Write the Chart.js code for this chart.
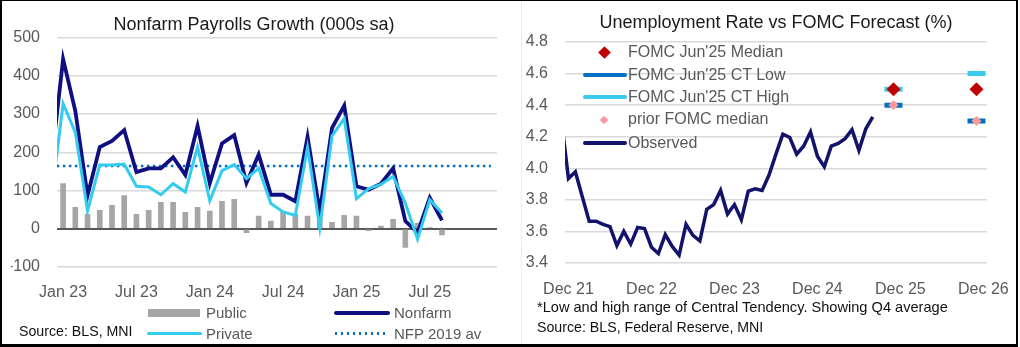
<!DOCTYPE html>
<html>
<head>
<meta charset="utf-8">
<script src="https://cdn.jsdelivr.net/npm/chart.js@4.4.1/dist/chart.umd.min.js"></script>
<style>
  body { margin: 0; background: #fff; font-family: "Liberation Sans", Arial, sans-serif; }
  #wrap { position: relative; width: 1020px; height: 347px; overflow: hidden; background: #fff; }
  canvas { position: absolute; top: 0; }
  #left { left: 0; }
  #right { left: 521px; }
  .frame { position: absolute; left: 0; top: 0; width: 1018px; height: 347px; box-sizing: border-box;
    border-style: solid; border-color: #000; border-width: 1px 2px 3px 2px; pointer-events: none; }
  .sep { position: absolute; left: 521px; top: 0; width: 1px; height: 344px; background: #ececec; }
  .txt { position: absolute; white-space: nowrap; line-height: 20px; height: 20px; color: #595959; }
  .lg { font-size: 15px; }
  .lg2 { font-size: 16px; }
  .note { font-size: 14.5px; color: #111; }
  .sw { position: absolute; }
</style>
</head>
<body>
<div id="wrap">
  <canvas id="left" width="515" height="347"></canvas>
  <canvas id="right" width="497" height="347"></canvas>
  <div class="sep"></div>

  <!-- left legend -->
  <div class="sw" style="left:148px;top:309px;width:52px;height:8px;background:#a6a6a6"></div>
  <div class="txt lg" style="left:206px;top:303px">Public</div>
  <div class="sw" style="left:334px;top:311px;width:56px;height:4px;border-radius:2px;background:#0f0f82"></div>
  <div class="txt lg" style="left:394px;top:303px">Nonfarm</div>
  <div class="sw" style="left:147px;top:332px;width:55px;height:3px;border-radius:1.5px;background:#33ccee"></div>
  <div class="txt lg" style="left:206px;top:324px">Private</div>
  <div class="sw" style="left:335px;top:332px;width:52px;height:2.5px;background:repeating-linear-gradient(90deg,#0070c0 0 2.5px,transparent 2.5px 6px)"></div>
  <div class="txt lg" style="left:394px;top:324px">NFP 2019 av</div>
  <div class="txt note" style="left:19px;top:321px;font-size:14.2px">Source: BLS, MNI</div>

  <!-- right legend -->
  <div class="sw" style="left:599.5px;top:47.5px;width:9px;height:9px;background:#c00000;transform:rotate(45deg)"></div>
  <div class="txt lg2" style="left:628px;top:42px">FOMC Jun'25 Median</div>
  <div class="sw" style="left:583px;top:73px;width:44px;height:4px;border-radius:2px;background:#0070c0"></div>
  <div class="txt lg2" style="left:628px;top:65px">FOMC Jun'25 CT Low</div>
  <div class="sw" style="left:583px;top:95px;width:44px;height:4px;border-radius:2px;background:#3accee"></div>
  <div class="txt lg2" style="left:628px;top:87px">FOMC Jun'25 CT High</div>
  <div class="sw" style="left:601px;top:117px;width:6px;height:6px;background:#ff9999;transform:rotate(45deg)"></div>
  <div class="txt lg2" style="left:628px;top:109px">prior FOMC median</div>
  <div class="sw" style="left:583px;top:141px;width:44px;height:4px;border-radius:2px;background:#13136b"></div>
  <div class="txt lg2" style="left:628px;top:133px">Observed</div>

  <div class="txt note" style="left:537px;top:297px;font-size:14.6px">*Low and high range of Central Tendency. Showing Q4 average</div>
  <div class="txt note" style="left:537px;top:317px;font-size:14.2px">Source: BLS, Federal Reserve, MNI</div>

  <div class="frame"></div>
</div>
<script>
// ---- payrolls (000s) ----
const payrollMonths = ['Dec 22','Jan 23','Feb 23','Mar 23','Apr 23','May 23','Jun 23','Jul 23','Aug 23','Sep 23',
  'Oct 23','Nov 23','Dec 23','Jan 24','Feb 24','Mar 24','Apr 24','May 24','Jun 24','Jul 24','Aug 24','Sep 24',
  'Oct 24','Nov 24','Dec 24','Jan 25','Feb 25','Mar 25','Apr 25','May 25','Jun 25','Jul 25','Aug 25','Sep 25',
  'Oct 25','Nov 25','Dec 25'];
const payrollTicks = ['Jan 23','Jul 23','Jan 24','Jul 24','Jan 25','Jul 25'];
const nonfarm = [160, 444, 308, 87, 214, 230, 258, 148, 158, 158, 187, 141, 269, 119, 223, 245, 120, 194, 89,
  89, 72, 240, 44, 263, 322, 111, 102, 118, 158, 20, -10, 81, 22];
const privateJobs = [70, 327, 252, 47, 167, 167, 169, 111, 109, 89, 118, 96, 214, 73, 152, 168, 131, 158, 66,
  44, 35, 213, 3, 243, 288, 79, 105, 116, 137, 67, -27, 76, 41];
const publicJobs = [null, 118, 56, 38, 48, 61, 87, 38, 48, 69, 69, 43, 56, 46, 72, 77, -10, 33, 20,
  45, 38, 33, 41, 17, 35, 33, -5, 7, 25, -49, 15, 3, -16];
const nfp2019Avg = 164;

// ---- unemployment rate (%) ----
const rateMonths = ['Nov 21','Dec 21',
  'Jan 22','Feb 22','Mar 22','Apr 22','May 22','Jun 22','Jul 22','Aug 22','Sep 22','Oct 22','Nov 22','Dec 22',
  'Jan 23','Feb 23','Mar 23','Apr 23','May 23','Jun 23','Jul 23','Aug 23','Sep 23','Oct 23','Nov 23','Dec 23',
  'Jan 24','Feb 24','Mar 24','Apr 24','May 24','Jun 24','Jul 24','Aug 24','Sep 24','Oct 24','Nov 24','Dec 24',
  'Jan 25','Feb 25','Mar 25','Apr 25','May 25','Jun 25','Jul 25','Aug 25','Sep 25','Oct 25','Nov 25','Dec 25',
  'Jan 26','Feb 26','Mar 26','Apr 26','May 26','Jun 26','Jul 26','Aug 26','Sep 26','Oct 26','Nov 26','Dec 26'];
const rateTicks = ['Dec 21','Dec 22','Dec 23','Dec 24','Dec 25','Dec 26'];
const observed = [4.3, 3.935, 3.978, 3.82, 3.665, 3.665, 3.645, 3.63, 3.51, 3.60, 3.52, 3.625, 3.618, 3.50,
  3.46, 3.58, 3.505, 3.45, 3.645, 3.575, 3.54, 3.74, 3.77, 3.86, 3.71, 3.77, 3.675, 3.855, 3.87, 3.86, 3.957,
  4.09, 4.216, 4.195, 4.089, 4.14, 4.23, 4.076, 4.009, 4.14, 4.157, 4.188, 4.245, 4.114, 4.25, 4.325];
const forecastMonths = ['Nov 25', 'Nov 26'];   // Q4 averages
const fomcMedian = [4.5, 4.5];
const fomcCtLow = [4.4, 4.3];
const fomcCtHigh = [4.5, 4.6];
const priorMedian = [4.4, 4.3];

Chart.defaults.font.family = "'Liberation Sans', Arial, sans-serif";
Chart.defaults.color = '#595959';

function pts(vals) {
  return vals.map((v, i) => ({ x: forecastMonths[i], y: v }));
}

new Chart(document.getElementById('left'), {
  type: 'bar',
  data: {
    labels: payrollMonths,
    datasets: [
      {
        type: 'line',
        label: 'Private',
        data: privateJobs,
        borderColor: '#33ccee',
        borderWidth: 3,
        pointRadius: 0,
        tension: 0,
        order: 0,
        clip: 0,
      },
      {
        type: 'line',
        label: 'Nonfarm',
        data: nonfarm,
        borderColor: '#0f0f82',
        borderWidth: 3.8,
        pointRadius: 0,
        tension: 0,
        order: 1,
        clip: 0,
      },
      {
        type: 'line',
        label: 'NFP 2019 av',
        data: [{ x: payrollMonths[0], y: nfp2019Avg }, { x: payrollMonths[payrollMonths.length - 1], y: nfp2019Avg }],
        borderColor: '#0070c0',
        borderWidth: 2.5,
        borderDash: [2.5, 3.5],
        pointRadius: 0,
        order: 2,
        clip: 0,
      },
      {
        label: 'Public',
        data: publicJobs,
        backgroundColor: '#a6a6a6',
        barThickness: 5,
        order: 3,
      },
    ],
  },
  options: {
    responsive: false,
    animation: false,
    layout: { padding: { left: 11, right: 18, top: 0, bottom: 40 } },
    plugins: {
      legend: { display: false },
      tooltip: { enabled: false },
      title: {
        display: true,
        text: 'Nonfarm Payrolls Growth (000s sa)',
        color: '#1a1a1a',
        font: { size: 18, weight: 'normal' },
        padding: { top: 14, bottom: 2 },
      },
    },
    scales: {
      x: {
        type: 'category',
        min: 'Jan 23',
        offset: true,
        grid: { display: false },
        border: { display: false },
        ticks: {
          autoSkip: false,
          maxRotation: 0,
          minRotation: 0,
          padding: 8,
          font: { size: 16 },
          callback: function (v) {
            const l = this.getLabelForValue(v);
            return payrollTicks.includes(l) ? l : '';
          },
        },
        afterFit: (s) => { s.height = 40; },
      },
      y: {
        min: -100,
        max: 500,
        ticks: { stepSize: 100, padding: 17, font: { size: 16 } },
        grid: {
          drawTicks: false,
          color: (c) => (c.tick && c.tick.value === 0 ? '#595959' : '#d9d9d9'),
          lineWidth: (c) => (c.tick && c.tick.value === 0 ? 2 : 1.5),
        },
        border: { display: false },
        afterFit: (s) => { s.width = 46; },
      },
    },
  },
});

new Chart(document.getElementById('right'), {
  type: 'line',
  data: {
    labels: rateMonths,
    datasets: [
      {
        label: "FOMC Jun'25 Median",
        data: pts(fomcMedian),
        showLine: false,
        pointStyle: 'rectRot',
        pointRadius: 6.5,
        backgroundColor: '#c00000',
        borderColor: '#c00000',
        borderWidth: 1,
        order: 0,
      },
      {
        label: 'prior FOMC median',
        data: pts(priorMedian),
        showLine: false,
        pointStyle: 'rectRot',
        pointRadius: 4.5,
        backgroundColor: '#ff9999',
        borderColor: '#ff9999',
        borderWidth: 1,
        order: 1,
      },
      {
        label: "FOMC Jun'25 CT Low",
        data: pts(fomcCtLow),
        showLine: false,
        pointStyle: 'line',
        pointRadius: 9,
        borderColor: '#0070c0',
        borderWidth: 5,
        order: 2,
      },
      {
        label: "FOMC Jun'25 CT High",
        data: pts(fomcCtHigh),
        showLine: false,
        pointStyle: 'line',
        pointRadius: 9,
        borderColor: '#3accee',
        borderWidth: 5,
        order: 3,
      },
      {
        label: 'Observed',
        data: observed,
        borderColor: '#13136b',
        borderWidth: 3.5,
        pointRadius: 0,
        tension: 0,
        order: 4,
        clip: 0,
      },
    ],
  },
  options: {
    responsive: false,
    animation: false,
    layout: { padding: { left: 0, right: 29, top: 0, bottom: 40 } },
    plugins: {
      legend: { display: false },
      tooltip: { enabled: false },
      title: {
        display: true,
        fullSize: false,
        text: 'Unemployment Rate vs FOMC Forecast (%)',
        color: '#1a1a1a',
        font: { size: 18, weight: 'normal' },
        padding: { top: 12.5, bottom: 7.9 },
      },
    },
    scales: {
      x: {
        type: 'category',
        min: 'Dec 21',
        offset: true,
        grid: { display: false },
        border: { display: false },
        ticks: {
          autoSkip: false,
          maxRotation: 0,
          minRotation: 0,
          padding: 9,
          font: { size: 16 },
          callback: function (v) {
            const l = this.getLabelForValue(v);
            return rateTicks.includes(l) ? l : '';
          },
        },
        afterFit: (s) => { s.height = 44; },
      },
      y: {
        min: 3.4,
        max: 4.8,
        ticks: { stepSize: 0.2, padding: 17, font: { size: 16 }, callback: (v) => v.toFixed(1) },
        grid: { drawTicks: false, color: '#d9d9d9', lineWidth: 1.5 },
        border: { display: false },
        afterFit: (s) => { s.width = 44; },
      },
    },
  },
});
</script>
</body>
</html>
